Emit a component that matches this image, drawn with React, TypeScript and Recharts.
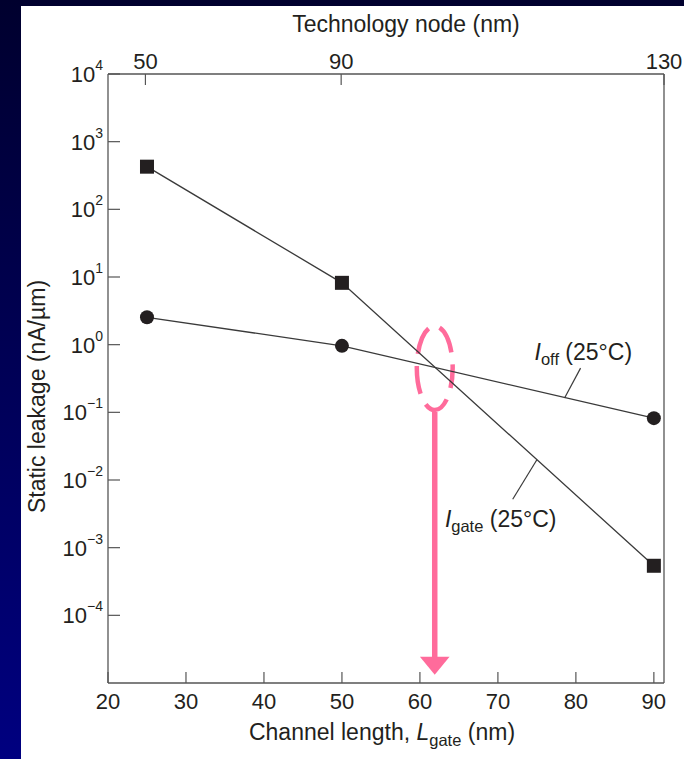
import React from 'react';
import {
  LineChart,
  Line,
  XAxis,
  YAxis,
  ReferenceArea,
  ReferenceLine,
  ReferenceDot,
} from 'recharts';

// channel length (nm) and static leakage (nA/um)
const channelLength = [25, 50, 90];
const igate = [427, 8.2, 5.4e-4];
const ioff = [2.54, 0.96, 0.082];

const bottomTicks = [20, 30, 40, 50, 60, 70, 80, 90];
const topTickPos = [24.8, 49.9, 91.3];
const topTickLabels = ['50', '90', '130'];
const yTicks = [1e4, 1e3, 1e2, 1e1, 1, 1e-1, 1e-2, 1e-3, 1e-4];

// annotations (data space)
const ellipseBox = { x1: 59.6, x2: 64.2, y1: 0.108, y2: 1.89 };
const arrowBox = { x1: 60.0, x2: 63.8, y1: 1.32e-5, y2: 0.101 };
const ioffLeader = [{ x: 80.6, y: 0.45 }, { x: 78.55, y: 0.163 }];
const igateLeader = [{ x: 75.0, y: 0.0199 }, { x: 71.9, y: 0.0052 }];
const ioffLabelAt = { x: 74.7, y: 0.594 };
const igateLabelAt = { x: 63.2, y: 0.00202 };

const igateData = channelLength.map((x, i) => ({ x, y: igate[i] }));
const ioffData = channelLength.map((x, i) => ({ x, y: ioff[i] }));

const INK = '#231f20';
const AXIS = '#555';
const PINK = '#ff6b9b';
const FONT = '"Liberation Sans", Arial, Helvetica, sans-serif';

const YTick = (props: any) => {
  const { x, y, payload } = props;
  const exp = Math.round(Math.log10(payload.value));
  return (
    <g>
      <line x1={x + 6} y1={y} x2={x + 18} y2={y} stroke={AXIS} strokeWidth={1.2} />
      <text x={x + 1} y={y + 8} textAnchor="end" fontSize={22} fill={INK} fontFamily={FONT}>
        <tspan>10</tspan>
        <tspan fontSize={14} dy={-12}>{exp < 0 ? '\u2212' + Math.abs(exp) : String(exp)}</tspan>
      </text>
    </g>
  );
};

const BottomTick = (props: any) => {
  const { x, y, payload } = props;
  return (
    <g>
      <line x1={x} y1={y - 10} x2={x} y2={y - 21} stroke={AXIS} strokeWidth={1.2} />
      <text x={x} y={y + 15.5} textAnchor="middle" fontSize={22} fill={INK} fontFamily={FONT}>
        {payload.value}
      </text>
    </g>
  );
};

const TopTick = (props: any) => {
  const { x, y, payload, index } = props;
  return (
    <g>
      <line x1={x} y1={y + 5} x2={x} y2={y + 16} stroke={AXIS} strokeWidth={1.2} />
      <text x={x} y={y} textAnchor="middle" fontSize={22} fill={INK} fontFamily={FONT}>
        {topTickLabels[index] ?? payload.value}
      </text>
    </g>
  );
};

const SquareDot = (props: any) => {
  const { cx, cy, index } = props;
  return <rect key={`sq-${index}`} x={cx - 7} y={cy - 7} width={14} height={14} fill={INK} />;
};

const RoundDot = (props: any) => {
  const { cx, cy, index } = props;
  return <circle key={`ci-${index}`} cx={cx} cy={cy} r={7} fill={INK} />;
};

const CurrentLabel = (sub: string) => (props: any) => {
  const { cx, cy } = props;
  return (
    <text x={cx} y={cy} fontSize={23} fill={INK} fontFamily={FONT}>
      <tspan fontStyle="italic">I</tspan>
      <tspan fontSize={16.5} dy={5}>{sub}</tspan>
      <tspan dy={-5}> (25°C)</tspan>
    </text>
  );
};

const App: React.FC = () => {
  return (
    <div
      style={{
        position: 'absolute',
        left: 0,
        top: 0,
        width: 684,
        height: 759,
        background: 'linear-gradient(to bottom, #00002e, #000080)',
        overflow: 'hidden',
      }}
    >
      <div
        style={{ position: 'absolute', left: 21, top: 6, width: 663, height: 753, background: '#ffffff' }}
      />
      <div style={{ position: 'absolute', left: 0, top: 0 }}>
        <LineChart width={684} height={759} margin={{ top: 0, right: 0, bottom: 0, left: 0 }}>
          <XAxis
            xAxisId="bottom"
            type="number"
            dataKey="x"
            orientation="bottom"
            domain={[20, 91.3]}
            ticks={bottomTicks}
            allowDataOverflow
            height={76}
            tickSize={0}
            tickMargin={10}
            tickLine={false}
            tick={<BottomTick />}
            axisLine={{ stroke: AXIS, strokeWidth: 1.3 }}
            label={({ viewBox }: any) => (
              <text
                x={viewBox.x + viewBox.width / 2 - 4}
                y={740}
                textAnchor="middle"
                fontSize={23}
                fill={INK}
                fontFamily={FONT}
              >
                <tspan>Channel length, </tspan>
                <tspan fontStyle="italic">L</tspan>
                <tspan fontSize={16.5} dy={6}>gate</tspan>
                <tspan dy={-6}> (nm)</tspan>
              </text>
            )}
          />
          <XAxis
            xAxisId="top"
            type="number"
            dataKey="x"
            orientation="top"
            domain={[20, 91.3]}
            ticks={topTickPos}
            allowDataOverflow
            height={74}
            tickSize={0}
            tickMargin={5}
            tickLine={false}
            tick={<TopTick />}
            axisLine={{ stroke: AXIS, strokeWidth: 1.3 }}
            label={({ viewBox }: any) => (
              <text
                x={viewBox.x + viewBox.width / 2 + 20}
                y={31.5}
                textAnchor="middle"
                fontSize={23}
                fill={INK}
                fontFamily={FONT}
              >
                Technology node (nm)
              </text>
            )}
          />
          <YAxis
            yAxisId="left"
            type="number"
            scale="log"
            domain={[1e-5, 1e4]}
            ticks={yTicks}
            allowDataOverflow
            width={108}
            tickSize={0}
            tickMargin={6}
            tickLine={false}
            tick={<YTick />}
            axisLine={{ stroke: AXIS, strokeWidth: 1.3 }}
            label={({ viewBox }: any) => {
              const cx = 45;
              const cy = viewBox.y + viewBox.height / 2 + 18;
              return (
                <text
                  x={cx}
                  y={cy}
                  transform={`rotate(-90, ${cx}, ${cy})`}
                  textAnchor="middle"
                  fontSize={23}
                  fill={INK}
                  fontFamily={FONT}
                >
                  Static leakage (nA/µm)
                </text>
              );
            }}
          />
          <YAxis
            yAxisId="right"
            orientation="right"
            type="number"
            scale="log"
            domain={[1e-5, 1e4]}
            allowDataOverflow
            width={20}
            tick={false}
            tickLine={false}
            axisLine={{ stroke: AXIS, strokeWidth: 1.3 }}
          />

          <Line
            xAxisId="bottom"
            yAxisId="left"
            data={igateData}
            dataKey="y"
            type="linear"
            stroke="#3a3a3a"
            strokeWidth={1.3}
            dot={SquareDot}
            activeDot={false}
            isAnimationActive={false}
          />
          <Line
            xAxisId="bottom"
            yAxisId="left"
            data={ioffData}
            dataKey="y"
            type="linear"
            stroke="#3a3a3a"
            strokeWidth={1.3}
            dot={RoundDot}
            activeDot={false}
            isAnimationActive={false}
          />

          <ReferenceLine
            xAxisId="bottom"
            yAxisId="left"
            segment={ioffLeader}
            stroke="#3a3a3a"
            strokeWidth={1.2}
          />
          <ReferenceLine
            xAxisId="bottom"
            yAxisId="left"
            segment={igateLeader}
            stroke="#3a3a3a"
            strokeWidth={1.2}
          />
          <ReferenceDot
            xAxisId="bottom"
            yAxisId="left"
            x={ioffLabelAt.x}
            y={ioffLabelAt.y}
            shape={CurrentLabel('off')}
          />
          <ReferenceDot
            xAxisId="bottom"
            yAxisId="left"
            x={igateLabelAt.x}
            y={igateLabelAt.y}
            shape={CurrentLabel('gate')}
          />

          <ReferenceArea
            xAxisId="bottom"
            yAxisId="left"
            {...ellipseBox}
            shape={(p: any) => (
              <ellipse
                cx={p.x + p.width / 2}
                cy={p.y + p.height / 2}
                rx={p.width / 2}
                ry={p.height / 2}
                fill="none"
                stroke={PINK}
                strokeWidth={4.5}
                strokeDasharray="28 12"
                strokeDashoffset={8}
              />
            )}
          />
          <ReferenceArea
            xAxisId="bottom"
            yAxisId="left"
            {...arrowBox}
            shape={(p: any) => {
              const mx = p.x + p.width / 2;
              const headTop = p.y + p.height - 18;
              return (
                <g>
                  <line x1={mx} y1={p.y} x2={mx} y2={headTop + 1} stroke={PINK} strokeWidth={5.5} />
                  <polygon
                    points={`${p.x},${headTop} ${p.x + p.width},${headTop} ${mx},${p.y + p.height}`}
                    fill={PINK}
                  />
                </g>
              );
            }}
          />
        </LineChart>
      </div>
    </div>
  );
};

export default App;
